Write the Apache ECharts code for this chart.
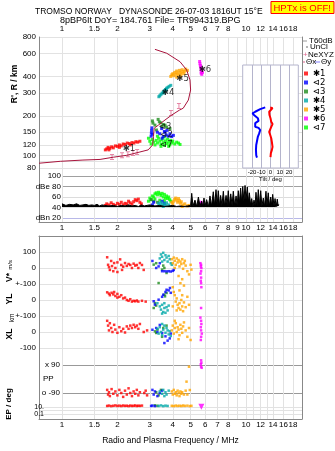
<!DOCTYPE html>
<html>
<head>
<meta charset="utf-8">
<script src="https://cdn.jsdelivr.net/npm/echarts@6/dist/echarts.min.js"></script>
<style>
  html, body { margin: 0; padding: 0; background: #fff; }
  #chart { width: 335px; height: 451px; }
</style>
</head>
<body>
<div id="chart"></div>
<script>
// ---- axes / ticks ----
var freqGrid = [1, 1.5, 2, 3, 4, 5, 6, 7, 8, 9, 10, 11, 12, 13, 14, 16, 18];
var freqTop = [1, 1.5, 2, 3, 4, 5, 6, 7, 8, 10, 12, 14, 16, 18];
var freqMid = [1, 1.5, 2, 3, 4, 5, 6, 7, 8, 9, 10, 12, 14, 16, 18];
var freqBot = [1, 1.5, 2, 3, 4, 5, 6, 7, 8, 10, 12, 14, 16, 18];
var heightTicks = [80, 90, 100, 120, 150, 200, 300, 400, 600, 800];
var dbTicks = [20, 40, 60, 80, 100];
var tiltTicks = [-20, -10, 0, 10, 20];

// ---- model profile (MHz, km) ----
var profF = [0.75, 0.98, 1.3, 1.61, 1.9, 2.25, 2.65, 2.94, 3.11, 3.14, 3.17, 3.34, 3.63, 3.95, 4.34, 4.56, 4.86, 5.0, 4.96, 4.76, 4.38, 3.71, 3.2];
var profH = [87, 90, 92, 93, 96.7, 100, 106, 110, 120, 139, 161, 170, 186, 203, 221, 229, 264, 315, 376, 448, 518, 601, 644];
// NeXYZ markers
var nexF = [1.87, 2.12, 2.28, 2.43, 2.56, 3.91, 4.32];
var nexH = [97, 100, 102, 104, 106, 210, 238];

// ---- tilt inset ----
var tiltXH = [232, 229, 222, 215, 209, 203, 192, 180, 173, 165, 161, 151, 143, 135, 126, 116, 110, 104, 97];
var tiltXDeg = [-0.3, 2.2, 0.8, -1.4, -2.1, -1.1, 0, 0.8, 2.2, 0.8, -1.1, -1.4, -0.3, 0.8, 1.5, 2.2, 1.5, 0.4, 0];
var tiltYH = [232, 225, 215, 209, 201, 192, 183, 176, 170, 165, 162, 156, 147, 139, 128, 120, 110, 100, 96];
var tiltYDeg = [-5.7, -11.1, -16.5, -19.4, -17.2, -13.6, -12.9, -16.5, -18.3, -16.5, -12.9, -11.1, -12.2, -13.6, -14.6, -15.4, -15.7, -15.4, -14.6];

// ---- amplitude trace (MHz, dB) ----
var blackF = [1.0, 1.05, 1.1, 1.15, 1.2, 1.25, 1.3, 1.35, 1.4, 1.45, 1.5, 1.55, 1.6, 1.65, 1.7, 1.8, 1.9, 2.0, 2.1, 2.2, 2.3, 2.4, 2.5, 2.6, 2.7, 2.8, 2.9, 3.0, 3.2, 3.4, 3.6, 3.8, 4.0, 4.2, 4.4, 4.6, 4.8, 5.0,
  5.07, 5.15, 5.28, 5.4, 5.51, 5.62, 5.74, 5.82, 5.91, 6.0, 6.11, 6.25, 6.37, 6.5, 6.64, 6.75, 6.87, 6.97, 7.07, 7.18, 7.28, 7.4, 7.53, 7.65, 7.79, 7.9, 8.01, 8.13, 8.26, 8.4, 8.53, 8.68, 8.83, 8.95, 9.08, 9.2, 9.35, 9.47, 9.6, 9.74, 9.88, 10.0, 10.17, 10.3, 10.43, 10.6, 10.74, 10.9, 11.05, 11.2, 11.33, 11.5, 11.66, 11.85, 12.02, 12.2, 12.42, 12.6, 12.84, 13.0, 13.21, 13.4, 13.62, 13.8, 13.96, 14.2, 14.38, 14.6, 14.79, 14.95, 15.06];
var blackDB = [47, 44, 46, 45, 47, 44, 45, 46, 44, 45, 44, 46, 43, 45, 44, 43, 44, 42, 44, 43, 45, 43, 44, 42, 45, 43, 44, 45, 43, 44, 42, 43, 44, 42, 43, 42, 43, 44,
  67, 43, 54, 42, 60, 43, 52, 42, 58, 44, 55, 42, 62, 43, 70, 44, 74, 45, 72, 43, 63, 44, 71, 43, 63, 45, 72, 43, 66, 44, 71, 43, 62, 44, 72, 48, 77, 50, 80, 52, 82, 55, 79, 50, 68, 44, 57, 42, 54, 45, 69, 43, 74, 44, 72, 43, 58, 42, 71, 44, 68, 43, 60, 44, 65, 43, 57, 42, 56, 43, 46];

// ---- echo clusters: [MHz, value] ----
var c1Iono = [[1.72,110],[1.75,112],[1.78,115],[1.8,110],[1.82,113],[1.86,116],[1.9,114],[1.95,118],[2.0,117],[2.05,115],[2.05,120],[2.1,118],[2.15,122],[2.2,121],[2.26,124],[2.32,123],[2.35,120],[2.4,125],[2.46,124],[2.52,127],[2.58,126],[2.65,128]];
var c1Dbe = [[1.72,44],[1.75,47],[1.8,45],[1.85,49],[1.9,46],[1.95,44],[2.0,48],[2.05,46],[2.1,50],[2.15,45],[2.2,48],[2.25,47],[2.3,52],[2.35,49],[2.4,46],[2.45,51],[2.5,55],[2.55,53],[2.6,56],[2.65,50],[2.7,47]];
var c1V = [[1.76,67],[1.78,20],[1.82,-12],[1.85,44],[1.87,12],[1.9,-20],[1.92,31],[1.95,0],[2.0,35],[2.07,54],[2.1,19],[2.12,-12],[2.2,31],[2.25,13],[2.3,25],[2.35,19],[2.4,0],[2.45,27],[2.5,15],[2.55,19],[2.6,0],[2.65,31],[2.72,19],[2.78,-12],[1.8,5],[2.0,-25],[2.15,8]];
var c1Y = [[1.76,48],[1.8,40],[1.82,30],[1.86,45],[1.9,35],[1.95,25],[2.0,38],[2.05,20],[2.1,30],[2.15,10],[2.2,15],[2.25,0],[2.3,-5],[2.35,5],[2.4,-10],[2.45,-5],[2.5,-8],[2.55,-3],[2.6,-10],[2.72,-5],[2.85,-10],[2.0,15],[1.92,50]];
var c1X = [[1.76,70],[1.78,40],[1.8,10],[1.82,55],[1.85,25],[1.88,0],[1.92,45],[1.95,15],[2.0,-5],[2.05,30],[2.1,5],[2.15,20],[2.2,-3],[2.25,35],[2.3,20],[2.35,40],[2.4,25],[2.45,45],[2.5,30],[2.55,40],[2.6,20],[2.65,50],[2.78,0],[2.9,10]];
var c1P = [[1.76,-70],[1.78,-100],[1.8,-85],[1.82,-110],[1.86,-65],[1.9,-95],[1.95,-80],[2.0,-105],[2.05,-70],[2.1,-90],[2.15,-115],[2.2,-75],[2.25,-100],[2.3,-60],[2.35,-90],[2.4,-110],[2.45,-80],[2.5,-95],[2.55,-70],[2.6,-105],[2.65,-85],[2.8,-90],[2.85,-75],[2.9,-105]];
var c1E = [[1.76,20],[1.8,25],[1.85,18],[1.9,22],[1.95,28],[2.0,20],[2.05,24],[2.1,19],[2.15,26],[2.2,21],[2.25,23],[2.3,18],[2.35,25],[2.4,20],[2.45,22],[2.5,27],[2.55,19],[2.6,23],[2.65,21],[2.72,25]];

var c2Iono = [[3.05,140],[3.06,148],[3.07,155],[3.08,162],[3.1,145],[3.4,146],[3.48,160],[3.55,139],[3.6,152],[3.63,150],[3.68,143],[3.72,155],[3.78,140],[3.86,146],[3.94,139],[4.03,142],[3.5,135],[3.3,150]];
var c2Dbe = [[3.1,45],[3.15,50],[3.5,52],[3.6,48]];
var c2V = [[3.1,44],[3.25,0],[3.35,10],[3.5,-20],[3.6,-20],[3.7,-21],[3.8,-20],[3.9,-22],[4.0,-18],[4.05,-12],[3.4,30]];
var c2Y = [[3.15,-8],[3.2,-29],[3.35,2],[3.5,20],[3.55,33],[3.65,50],[3.7,64],[3.8,60],[3.86,75],[3.9,45]];
var c2X = [[3.1,14],[3.25,25],[3.4,44],[3.5,-6],[3.65,-27],[3.6,-69],[3.75,-54],[3.85,-40],[3.9,-10],[3.3,0]];
var c2P = [[3.1,-70],[3.15,-100],[3.2,-80],[3.3,-110],[3.4,-90],[3.5,-75]];
var c2E = [[3.05,20],[3.1,25],[3.2,18]];

var c3Iono = [[3.1,183],[3.12,176],[3.33,188],[3.38,180],[3.44,177],[3.55,172],[3.63,170],[3.7,164],[3.86,160],[3.2,170],[3.26,156],[3.5,165]];
var c3Dbe = [[3.05,55],[3.15,52],[3.3,50]];
var c3V = [[3.15,21],[3.25,30],[3.5,-10],[3.6,0],[3.7,-31],[3.35,-94],[3.55,15]];
var c3Y = [[3.15,-50],[3.2,-19],[3.6,33],[3.63,23],[3.7,44],[3.25,-35]];
var c3X = [[3.2,4],[3.3,15],[3.55,25],[3.7,40],[3.25,-6],[3.5,-30]];
var c3P = [[3.25,-85],[3.35,-105],[3.45,-70]];
var c3E = [[3.2,30],[3.3,22]];

var c4Iono = [[3.36,280],[3.4,285],[3.45,292],[3.5,298],[3.55,305],[3.6,312],[3.65,318],[3.7,325],[3.76,330],[3.82,336],[3.9,342],[3.58,300],[3.68,315]];
var c4Dbe = [[3.35,48],[3.4,44],[3.45,50],[3.5,46],[3.55,42],[3.6,47],[3.65,44],[3.7,49],[3.8,45]];
var c4V = [[3.4,60],[3.45,85],[3.5,70],[3.55,95],[3.6,50],[3.65,80],[3.7,65],[3.75,40],[3.8,75],[3.85,55],[3.9,30],[3.5,40],[3.95,20]];
var c4Y = [[3.3,-20],[3.4,-40],[3.45,-60],[3.5,-30],[3.55,-75],[3.6,-50],[3.65,-80],[3.7,-45],[3.75,-65],[3.8,-35],[3.6,-20],[3.5,-85]];
var c4X = [[3.3,20],[3.35,-10],[3.4,30],[3.45,0],[3.5,-20],[3.55,15],[3.6,40],[3.65,-5],[3.7,25],[3.75,10],[3.8,-15],[3.85,5],[3.9,-25],[3.5,50]];
var c4P = [[3.4,-80],[3.5,-95],[3.55,-70],[3.6,-110],[3.65,-85],[3.7,-100],[3.8,-75]];
var c4E = [[3.35,20],[3.45,28],[3.55,18],[3.65,24],[3.75,20]];

var c5Iono = [[3.9,400],[3.95,412],[4.0,420],[4.05,405],[4.1,430],[4.15,415],[4.2,440],[4.25,425],[4.3,410],[4.35,445],[4.4,430],[4.45,418],[4.5,450],[4.55,435],[4.6,420],[4.65,440],[4.7,455],[4.8,445],[4.2,395],[4.4,400]];
var c5Dbe = [[3.95,50],[4.0,47],[4.05,52],[4.1,56],[4.15,58],[4.2,54],[4.25,50],[4.3,57],[4.35,53],[4.4,48],[4.45,51],[4.55,45],[4.65,47],[4.8,43],[4.9,44],[4.5,42]];
var c5V = [[3.95,55],[4.0,30],[4.05,65],[4.1,45],[4.15,20],[4.2,60],[4.25,35],[4.3,50],[4.35,10],[4.4,40],[4.45,25],[4.5,55],[4.55,-5],[4.6,30],[4.7,15],[4.8,-20],[4.9,-40],[5.0,20],[4.3,-50],[4.5,-70],[4.1,0],[4.65,45],[5.05,-10],[4.4,-95],[4.6,-110]];
var c5Y = [[4.0,80],[4.05,50],[4.1,30],[4.15,-10],[4.2,10],[4.25,-30],[4.3,-50],[4.35,-20],[4.4,-60],[4.45,0],[4.5,-40],[4.55,-70],[4.6,-15],[4.7,-45],[4.8,20],[4.2,-65],[4.35,60],[4.0,-40],[4.5,30],[4.9,-30]];
var c5X = [[3.95,10],[4.0,40],[4.05,-10],[4.1,25],[4.15,55],[4.2,0],[4.25,30],[4.3,15],[4.35,-20],[4.4,45],[4.45,20],[4.5,-5],[4.55,35],[4.6,60],[4.7,10],[4.8,-30],[4.9,25],[5.0,-50],[4.3,-45],[4.1,70]];
var c5P = [[3.95,-80],[4.0,-100],[4.05,-70],[4.1,-95],[4.15,-85],[4.2,-105],[4.25,-75],[4.3,-90],[4.35,-110],[4.4,-80],[4.45,-95],[4.5,-85],[4.6,-100],[4.7,-75],[4.9,79],[4.75,-17],[4.95,-71],[4.8,-100]];
var c5E = [[3.95,22],[4.05,18],[4.15,25],[4.25,20],[4.35,23],[4.45,19],[4.55,26],[4.65,21],[4.8,24],[4.95,18],[5.05,22]];

var c6Iono = [[5.6,520],[5.62,500],[5.65,485],[5.68,470],[5.7,455],[5.72,440],[5.7,425],[5.75,415],[5.8,430]];
var c6Dbe = [[5.6,45],[5.65,48],[5.7,50],[5.72,47],[5.75,44]];
var c6V = [[5.65,30],[5.7,20],[5.68,10],[5.72,0],[5.7,-20],[5.66,-35],[5.7,-60],[5.68,-80],[5.7,-95],[5.72,-120]];
var c6Y = [[5.7,-50]];
var c6X = [[5.65,90],[5.7,70],[5.72,50],[5.68,30],[5.7,10],[5.75,-10],[5.7,-30],[5.68,-50]];
var c6P = [[5.7,120],[5.72,105],[5.68,95],[5.7,80],[5.74,72]];
var c6E = [[5.72,12]];

var c7Iono = [[2.95,135],[3.0,128],[3.05,122],[3.1,132],[3.15,126],[3.2,120],[3.25,130],[3.3,124],[3.35,135],[3.4,128],[3.45,121],[3.5,132],[3.55,125],[3.6,119],[3.65,129],[3.7,123],[3.75,133],[3.8,126],[3.85,120],[3.9,130],[3.95,124],[4.0,128],[4.1,122],[4.2,126],[4.3,124],[4.38,121],[3.3,140],[3.6,138],[3.45,117],[3.8,117]];
var c7Dbe = [[2.95,52],[3.0,58],[3.05,55],[3.1,62],[3.15,60],[3.2,66],[3.25,68],[3.3,64],[3.35,69],[3.4,66],[3.45,63],[3.5,67],[3.55,60],[3.6,65],[3.65,58],[3.7,62],[3.75,57],[3.8,60],[3.85,55],[3.9,52],[3.2,56],[3.4,54],[3.6,53]];

// cluster tags on the ionogram
var tagText = ['✱1', '⊲2', '⊲3', '✱4', '✱5', '✱6', '⊲7'];
var tagF = [2.31, 3.7, 3.63, 3.77, 4.52, 5.98, 3.69];
var tagH = [113, 143, 164, 301, 387, 452, 120];

var lg = Math.log10;
var fMin = -0.125, fMax = 1.3043;
function fmtF(v) { return String(+Math.pow(10, v).toFixed(2)); }
function toLog(a) { return a.map(function (p) { return [lg(p[0]), p[1]]; }); }
function toLogLog(a) { return a.map(function (p) { return [lg(p[0]), lg(p[1])]; }); }

var clusters = [
  { name: '⊲7', color: '#00ff00', iono: c7Iono, dbe: c7Dbe, v: [], y: [], x: [], p: [], e: [] },
  { name: '✱1', color: '#ff0000', iono: c1Iono, dbe: c1Dbe, v: c1V, y: c1Y, x: c1X, p: c1P, e: c1E },
  { name: '⊲3', color: '#1e8c1e', iono: c3Iono, dbe: c3Dbe, v: c3V, y: c3Y, x: c3X, p: c3P, e: c3E },
  { name: '⊲2', color: '#0000ff', iono: c2Iono, dbe: c2Dbe, v: c2V, y: c2Y, x: c2X, p: c2P, e: c2E },
  { name: '✱4', color: '#00a8a8', iono: c4Iono, dbe: c4Dbe, v: c4V, y: c4Y, x: c4X, p: c4P, e: c4E },
  { name: '✱5', color: '#ffa500', iono: c5Iono, dbe: c5Dbe, v: c5V, y: c5Y, x: c5X, p: c5P, e: c5E },
  { name: '✱6', color: '#ff00ff', iono: c6Iono, dbe: c6Dbe, v: c6V, y: c6Y, x: c6X, p: c6P, e: c6E }
];

var FONT = 'Liberation Sans';
var LBL = { fontSize: 8, color: '#000', fontFamily: FONT, showMinLabel: true, showMaxLabel: true, hideOverlap: false };
var FRAME = '#888';
var GRIDC = '#e2e2e2';

function hiddenX(grid, min) {
  return { type: 'value', gridIndex: grid, min: min, max: fMax, show: false };
}
function frameY(grid, pos) {
  return { type: 'value', gridIndex: grid, position: pos, min: 0, max: 1,
    axisLine: { show: true, onZero: false, lineStyle: { color: FRAME } },
    axisTick: { show: false }, axisLabel: { show: false }, splitLine: { show: false } };
}
function subY(grid, min, max, lines, labels, fmt, color, margin, size) {
  return { type: 'value', gridIndex: grid, min: min, max: max,
    axisLine: { show: false, onZero: false },
    axisTick: { show: false, customValues: lines },
    splitLine: { show: true, lineStyle: { color: color } },
    axisLabel: Object.assign({}, LBL, { customValues: labels, formatter: fmt, margin: margin, fontSize: size || 8 }) };
}

var grids = [
  { left: 39, top: 37, width: 263, height: 185 },   // 0 ionogram + frame
  { left: 62, top: 172, width: 240, height: 50 },   // 1 dBe
  { left: 242.7, top: 65, width: 55.6, height: 103, show: true, z: 1, backgroundColor: '#fff', borderColor: '#b4b4cc', borderWidth: 1 }, // 2 tilt
  { left: 39, top: 236, width: 263, height: 183 },  // 3 lower frame
  { left: 39, top: 252, width: 263, height: 32 },   // 4 V*
  { left: 39, top: 284, width: 263, height: 32 },   // 5 YL
  { left: 39, top: 316, width: 263, height: 32 },   // 6 XL
  { left: 62, top: 357, width: 240, height: 43 },   // 7 PP
  { left: 39, top: 400, width: 263, height: 19 }    // 8 EP
];
grids.forEach(function (g) { g.outerBoundsMode = 'none'; g.containLabel = false; });

var xAxes = [
  { type: 'value', gridIndex: 0, min: fMin, max: fMax,
    axisLine: { show: true, onZero: false, lineStyle: { color: FRAME } },
    axisTick: { show: false, customValues: freqGrid.map(lg) },
    splitLine: { show: true, lineStyle: { color: GRIDC } },
    axisLabel: Object.assign({}, LBL, { customValues: freqMid.map(lg), formatter: fmtF, margin: 2 }) },
  { type: 'value', gridIndex: 0, position: 'top', min: fMin, max: fMax,
    axisLine: { show: false }, axisTick: { show: false }, splitLine: { show: false },
    axisLabel: Object.assign({}, LBL, { customValues: freqTop.map(lg), formatter: fmtF, margin: 4 }) },
  hiddenX(1, 0),
  { type: 'value', gridIndex: 2, min: -30, max: 30, z: 2,
    axisLine: { show: false }, axisTick: { show: false, customValues: tiltTicks },
    splitLine: { show: true, lineStyle: { color: '#b4b4cc' } },
    axisLabel: Object.assign({}, LBL, { customValues: tiltTicks, fontSize: 6, margin: 1 }),
    name: 'Tilt / deg', nameLocation: 'middle', nameGap: 7, nameTextStyle: { fontSize: 6, color: '#000', fontFamily: FONT } },
  { type: 'value', gridIndex: 3, min: fMin, max: fMax,
    axisLine: { show: true, onZero: false, lineStyle: { color: FRAME } },
    axisTick: { show: false, customValues: freqGrid.map(lg) },
    splitLine: { show: true, lineStyle: { color: GRIDC } },
    axisLabel: Object.assign({}, LBL, { customValues: freqBot.map(lg), formatter: fmtF, margin: 2 }),
    name: 'Radio and Plasma Frequency / MHz', nameLocation: 'middle', nameGap: 17,
    nameTextStyle: { fontSize: 8.5, color: '#000', fontFamily: FONT } },
  { type: 'value', gridIndex: 3, position: 'top', min: fMin, max: fMax,
    axisLine: { show: true, onZero: false, lineStyle: { color: FRAME } },
    axisTick: { show: false }, axisLabel: { show: false }, splitLine: { show: false } },
  hiddenX(4, fMin), hiddenX(5, fMin), hiddenX(6, fMin), hiddenX(7, 0), hiddenX(8, fMin)
];

var yAxes = [
  { type: 'value', gridIndex: 0, min: 1.4909, max: lg(800),
    axisLine: { show: true, onZero: false, lineStyle: { color: FRAME } },
    axisTick: { show: false, customValues: heightTicks.map(lg) },
    splitLine: { show: true, lineStyle: { color: GRIDC } },
    axisLabel: Object.assign({}, LBL, { customValues: heightTicks.map(lg), margin: 3,
      formatter: function (v) { return String(Math.round(Math.pow(10, v))); } }) },
  frameY(0, 'right'),
  { type: 'value', gridIndex: 1, min: 12.4, max: 107.6,
    axisLine: { show: false, onZero: false },
    axisTick: { show: false, customValues: dbTicks },
    splitLine: { show: true, lineStyle: { color: ['#b8b8e8', '#dcdcdc', '#dcdcdc', '#a0a0a0', '#a0a0a0'] } },
    axisLabel: Object.assign({}, LBL, { customValues: dbTicks, margin: 1,
      formatter: function (v) { return v === 80 ? 'dBe 80' : v === 20 ? 'dBn 20' : String(v); } }) },
  { type: 'value', gridIndex: 2, min: lg(80), max: lg(489), show: false },
  frameY(3, 'left'),
  frameY(3, 'right'),
  subY(4, -100, 100, [-100, 0, 100], [-100, 0, 100], function (v) { return v === -100 ? '+-100' : String(v); }, GRIDC, 3),
  subY(5, -100, 100, [-100, 0], [-100, 0], function (v) { return v === -100 ? '+-100' : String(v); }, GRIDC, 3),
  subY(6, -100, 100, [-100, 0], [0], function (v) { return String(v); }, GRIDC, 3),
  subY(7, -135, 141.4, [-90, 90], [-90, 90], function (v) { return v > 0 ? 'x 90' : 'o -90'; }, '#999', 2),
  subY(8, -2.43, 3, [-1, 0, 1], [-1, 1], function (v) { return v > 0 ? '10.' : '0.1'; }, GRIDC, -5, 7)
];

var series = [];
// amplitude trace
series.push({ type: 'line', name: 'amp', xAxisIndex: 2, yAxisIndex: 2, silent: true,
  data: blackF.map(function (f, i) { return [lg(f), blackDB[i]]; }),
  symbol: 'none', lineStyle: { color: '#000', width: 1 },
  areaStyle: { color: '#000', opacity: 1, origin: 41 } });
// model profile
series.push({ type: 'line', name: 'profile', xAxisIndex: 0, yAxisIndex: 0, silent: true,
  data: profF.map(function (f, i) { return [lg(f), lg(profH[i])]; }),
  symbol: 'none', lineStyle: { color: '#a8143c', width: 1 } });

var panels = [
  { key: 'iono', xi: 0, yi: 0, conv: toLogLog, size: 3 },
  { key: 'dbe', xi: 2, yi: 2, conv: toLog, size: 3 },
  { key: 'v', xi: 6, yi: 6, conv: toLog, size: 2.5 },
  { key: 'y', xi: 7, yi: 7, conv: toLog, size: 2.5 },
  { key: 'x', xi: 8, yi: 8, conv: toLog, size: 2.5 },
  { key: 'p', xi: 9, yi: 9, conv: toLog, size: 2.5 },
  { key: 'e', xi: 10, yi: 10, conv: toLogLog, size: 2.5 }
];
panels.forEach(function (pn) {
  clusters.forEach(function (c) {
    var s = { type: 'scatter', name: c.name, xAxisIndex: pn.xi, yAxisIndex: pn.yi,
      data: pn.conv(c[pn.key]), symbol: 'rect', symbolSize: pn.size, clip: false,
      itemStyle: { color: c.color }, silent: true };
    if (pn.key === 'e' && c.name === '✱6') { s.symbol = 'triangle'; s.symbolRotate = 180; s.symbolSize = 6; }
    series.push(s);
  });
});
// NeXYZ markers
series.push({ type: 'scatter', name: 'NeXYZ', xAxisIndex: 0, yAxisIndex: 0, silent: true,
  data: nexF.map(function (f, i) { return [lg(f), lg(nexH[i])]; }),
  symbol: 'path://M0,0H4V1H2.5V5H4V6H0V5H1.5V1H0Z', symbolSize: [4, 6],
  itemStyle: { color: '#e0668f' } });
// tags
series.push({ type: 'scatter', name: 'tags', xAxisIndex: 0, yAxisIndex: 0, silent: true,
  data: tagF.map(function (f, i) { return [lg(f), lg(tagH[i]), tagText[i]]; }),
  symbolSize: 0, z: 5,
  label: { show: true, position: 'inside', formatter: function (p) { return p.data[2]; },
    fontSize: 8.5, color: '#000', fontFamily: 'DejaVu Sans' } });
// tilt profiles
series.push({ type: 'line', name: 'Θx', xAxisIndex: 3, yAxisIndex: 3, z: 4, silent: true,
  data: tiltXDeg.map(function (d, i) { return [d, lg(tiltXH[i])]; }),
  symbol: 'none', lineStyle: { color: '#ff0000', width: 2 } });
series.push({ type: 'line', name: 'Θy', xAxisIndex: 3, yAxisIndex: 3, z: 4, silent: true,
  data: tiltYDeg.map(function (d, i) { return [d, lg(tiltYH[i])]; }),
  symbol: 'none', lineStyle: { color: '#0000ff', width: 2 } });

function rtext(x, y, text, size, weight) {
  return { type: 'text', x: x, y: y, rotation: Math.PI / 2,
    style: { text: text, align: 'center', verticalAlign: 'middle', fontSize: size,
      fontWeight: weight || 'bold', fontFamily: FONT, fill: '#000' } };
}
function ltext(x, y, text, color, align) {
  return { type: 'text', x: x, y: y, z: 10,
    style: { text: text, align: align || 'left', verticalAlign: 'middle', fontSize: 8,
      fontFamily: FONT, fill: color || '#000' } };
}

var myChart = echarts.init(document.getElementById('chart'), null, { renderer: 'canvas' });
myChart.setOption({
  animation: false,
  backgroundColor: '#fff',
  title: [
    { text: 'TROMSO NORWAY   DYNASONDE 26-07-03 1816UT 15°E', left: 35, top: 7, padding: 0,
      textStyle: { fontSize: 8.5, fontWeight: 'normal', color: '#000', fontFamily: FONT } },
    { text: '8pBP6It DoY= 184.761 File= TR994319.BPG', left: 60, top: 16, padding: 0,
      textStyle: { fontSize: 9, fontWeight: 'normal', color: '#000', fontFamily: FONT } },
    { text: 'HPTx is OFF!', right: 1, top: 1, padding: [2, 3, 1, 3],
      backgroundColor: '#ffff00', borderColor: '#ff0000', borderWidth: 1,
      textStyle: { fontSize: 9.5, fontWeight: 'normal', color: '#ff0000', fontFamily: FONT } }
  ],
  legend: {
    data: ['✱1', '⊲2', '⊲3', '✱4', '✱5', '✱6', '⊲7'],
    orient: 'vertical', left: 304, top: 69, padding: 0,
    itemWidth: 4, itemHeight: 4, itemGap: 0, icon: 'rect',
    selectedMode: false,
    textStyle: { fontSize: 8.5, lineHeight: 6.7, color: '#000', fontFamily: 'DejaVu Sans' }
  },
  grid: grids,
  xAxis: xAxes,
  yAxis: yAxes,
  series: series,
  graphic: [
    rtext(14.5, 84, "R', R / km", 8.5),
    { type: 'text', x: 10, y: 271, rotation: Math.PI / 2,
      style: { text: '{a|V*} {b|m/s}', align: 'center', verticalAlign: 'middle', fill: '#000',
        rich: { a: { fontSize: 8.5, fontWeight: 'bold', fontFamily: FONT }, b: { fontSize: 6, fontFamily: FONT } } } },
    rtext(10, 299, 'YL', 8.5),
    rtext(12, 318, 'km', 6.5, 'normal'),
    rtext(10, 334, 'XL', 8.5),
    ltext(36, 348, '-100', '#000', 'right'),
    rtext(9, 404, 'EP / deg', 8),
    ltext(43, 379, 'PP'),
    { type: 'line', shape: { x1: 303, y1: 41, x2: 307, y2: 41 }, style: { stroke: '#999', lineWidth: 1 } },
    ltext(309, 41, 'T60dB'),
    { type: 'circle', shape: { cx: 307, cy: 47, r: 0.7 }, style: { fill: '#333' } },
    ltext(310, 47, 'UnCl'),
    ltext(303, 55, '+', '#e0668f'),
    ltext(308, 55, 'NeXYZ'),
    { type: 'line', shape: { x1: 302, y1: 62, x2: 305, y2: 62 }, style: { stroke: '#e0668f', lineWidth: 1 } },
    ltext(306, 62, 'Θx'),
    { type: 'line', shape: { x1: 315, y1: 62, x2: 320, y2: 62 }, style: { stroke: '#8080ff', lineWidth: 1 } },
    ltext(321, 62, 'Θy')
  ]
});
</script>
</body>
</html>
